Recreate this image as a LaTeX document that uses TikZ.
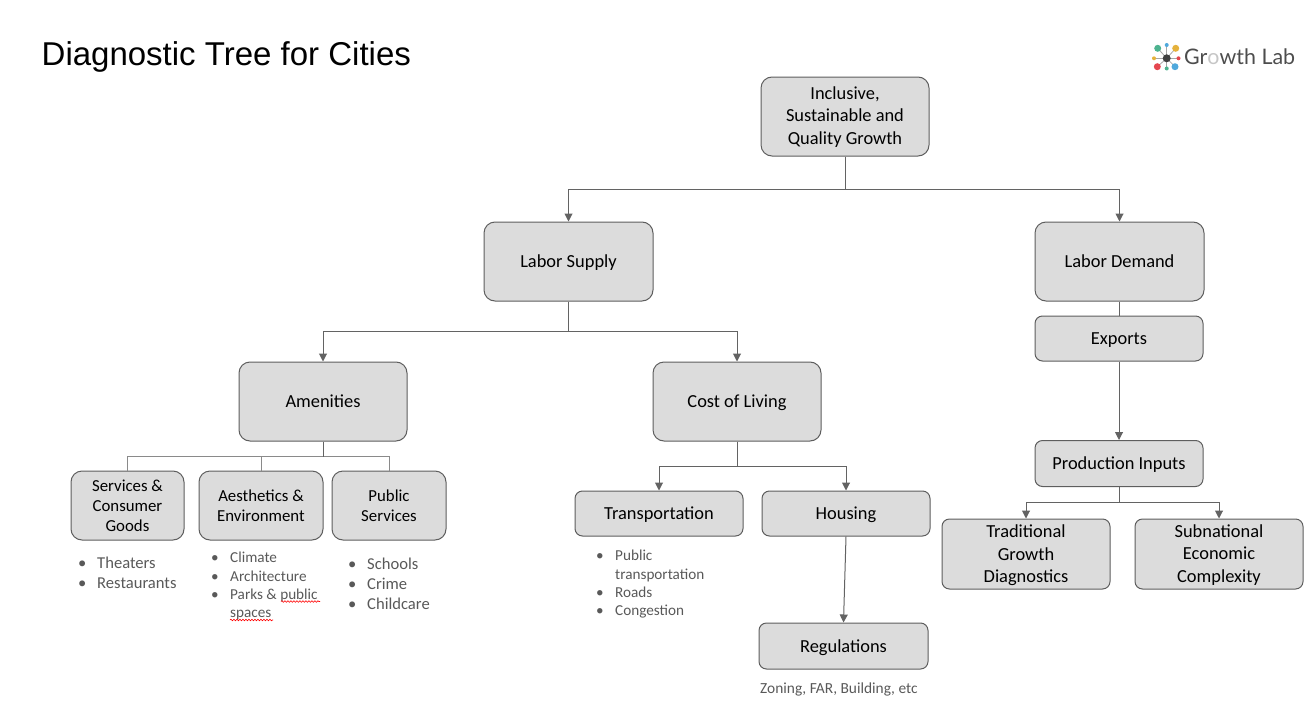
\documentclass[tikz,border=0pt]{standalone}
\usepackage{fontspec}
\setmainfont{Carlito}
\newfontfamily\titlefont{Liberation Sans}
\newfontfamily\logofont{Lato}
\usetikzlibrary{arrows.meta,decorations.pathmorphing}
\definecolor{boxfill}{HTML}{DCDCDC}
\definecolor{boxline}{HTML}{5E5E5E}
\definecolor{linkline}{HTML}{636363}
\definecolor{listtext}{HTML}{595959}
\definecolor{logotext}{HTML}{4D4D4D}
\definecolor{lgreen}{HTML}{4DB38F}
\definecolor{lblue}{HTML}{4FA8DC}
\definecolor{lyellow}{HTML}{E5B23C}
\definecolor{lred}{HTML}{E5474F}
\tikzset{
  x=1pt,y=-1pt,
  tbox/.style={draw=boxline,fill=boxfill,rounded corners=11pt,line width=1pt,align=center,
    inner sep=0pt,text=black,font=\fontsize{18.4}{22.5}\selectfont},
  link/.style={draw=linkline,line width=1pt},
  arrowlink/.style={link,-{Triangle[length=8pt,width=8pt]}},
  paleline/.style={draw=linkline!75,line width=1pt},
  lista/.style={anchor=base west,inner sep=0pt,text=listtext,font=\fontsize{16.6}{16}\selectfont},
  listb/.style={anchor=base west,inner sep=0pt,text=listtext,font=\fontsize{15.2}{14}\selectfont},
  squig/.style={draw=red,line width=0.6pt,decorate,decoration={snake,amplitude=0.8pt,segment length=3pt}},
  logodot/.style={circle,inner sep=0pt,minimum size=#1},
  spoke/.style={draw=gray!70,line width=0.8pt},
}
\newcommand{\bx}[7][]{\node[tbox,#1,minimum width=#6 pt,minimum height=#7 pt] (#2) at (#3,#4) {#5};}
\newcommand{\lowr}{\rule{0pt}{18pt}}
\begin{document}
\begin{tikzpicture}
\useasboundingbox (0,0) rectangle (1306,709);
\node[anchor=base west,inner sep=0pt,font=\titlefont\fontsize{33}{36}\selectfont] (title) at (41.5,66) {Diagnostic Tree for Cities};

% logo
\node[logodot=3pt] (hub) at (1166.7,58.3) {};
\foreach \n/\px/\py/\c/\s in {a/1157.7/48.3/lgreen/7pt,b/1166.7/45/lblue/4pt,c/1175.7/48.3/lyellow/7pt,d/1178.5/58.3/lred/4pt,e/1175/66.7/lblue/7pt,f/1166.7/68.5/lgreen/4pt,g/1157.3/66.7/lred/7pt,h/1154/58.3/lyellow/4pt}{
  \draw[spoke] (hub.center) -- (\px,\py);
  \node[logodot=\s,fill=\c] (dot\n) at (\px,\py) {};
}
\node[logodot=8pt,fill=black!75] (hubdot) at (1166.7,58.3) {};
\node[anchor=base west,inner sep=0pt,text=logotext,font=\logofont\fontsize{21.4}{22}\selectfont] (logo) at (1184,65) {Gr{\color{gray!45}o}wth Lab};

% boxes
\bx{top}{845}{116.5}{\rule{0pt}{13.5pt}Inclusive,\\Sustainable and\\Quality Growth}{168}{79}
\bx{ls}{568.5}{261.5}{\lowr\strut Labor Supply}{169}{79}
\bx{ld}{1119.5}{261.5}{\lowr\strut Labor Demand}{169}{79}
\bx[rounded corners=7.5pt]{exp}{1119}{338.5}{\lowr\strut Exports}{168}{45}
\bx[rounded corners=7.5pt]{pi}{1119}{463.5}{\lowr\strut Production Inputs}{168}{46}
\bx{am}{323}{401.5}{\lowr\strut Amenities}{168}{79}
\bx{col}{737}{401.5}{\lowr\strut Cost of Living}{168}{79}
\bx[font=\fontsize{16.8}{20}\selectfont]{sv}{127.5}{505.5}{Services \&\\Consumer\\Goods}{113}{69}
\bx[font=\fontsize{16.8}{20}\selectfont]{ae}{261}{505.5}{Aesthetics \&\\Environment}{124}{69}
\bx[font=\fontsize{16.8}{20}\selectfont]{pu}{389}{505.5}{Public\\Services}{114}{69}
\bx[rounded corners=7.5pt]{tr}{659}{513.5}{\lowr\strut Transportation}{168}{45}
\bx[rounded corners=7.5pt]{ho}{846}{513.5}{\lowr\strut Housing}{168}{45}
\bx[rounded corners=7.5pt]{re}{843.5}{646}{\rule{0pt}{19pt}\strut Regulations}{169}{46}
\bx[rounded corners=7.5pt]{tg}{1026}{554}{\rule{0pt}{16pt}Traditional\\Growth\\Diagnostics}{168}{70}
\bx[rounded corners=7.5pt]{se}{1219}{554}{\rule{0pt}{14pt}Subnational\\Economic\\Complexity}{168}{70}

% connectors
\draw[arrowlink] (top.south) -- ++(0,32.5) -| (ls.north);
\draw[arrowlink] (top.south) -- ++(0,32.5) -| (ld.north);
\draw[arrowlink] (ls.south) -- ++(0,29.5) -| (am.north);
\draw[arrowlink] (ls.south) -- ++(0,29.5) -| (col.north);
\draw[link] (ld.south) -- (ld.south |- exp.north);
\draw[arrowlink] (exp.south) -- (pi.north);
\draw[paleline] (am.south) -- ++(0,15) -| (sv.north);
\draw[paleline] (am.south) -- ++(0,15) -| (ae.north);
\draw[paleline] (am.south) -- ++(0,15) -| (pu.north);
\draw[link] (am.south) -- ++(0,15);
\draw[arrowlink] (col.south) -- ++(0,24.5) -| (tr.north);
\draw[arrowlink] (col.south) -- ++(0,24.5) -| (ho.north);
\draw[arrowlink] (ho.south) -- (re.north);
\draw[arrowlink] (pi.south) -- ++(0,15) -| (tg.north);
\draw[arrowlink] (pi.south) -- ++(0,15) -| (se.north);

% lists
\foreach \n/\bu/\tx/\yy/\t in {
  a1/78/97/568/Theaters,
  a2/78/97/588/Restaurants,
  c1/348/367/569/Schools,
  c2/348/367/589/Crime,
  c3/348/367/609/Childcare}{
  \node[lista] (bul\n) at (\bu,\yy) {\textbullet};
  \node[lista] (txt\n) at (\tx,\yy) {\t};
}
\foreach \n/\bu/\tx/\yy/\t in {
  b1/211/230/562/Climate,
  b2/211/230/581/Architecture,
  b3/211/230/599/Parks \& public,
  d1/596/615/560/Public,
  d3/596/615/597/Roads,
  d4/596/615/615/Congestion}{
  \node[listb] (bul\n) at (\bu,\yy) {\textbullet};
  \node[listb] (txt\n) at (\tx,\yy) {\t};
}
\node[listb] (txtb4) at (230,617) {spaces};
\node[listb] (txtd2) at (615,579) {transportation};
\node[listb] (zoning) at (760,693) {\fontsize{15.4}{14}\selectfont Zoning, FAR, Building, etc};

% spell-check underlines
\coordinate (s1) at (281,601.5);
\coordinate (s2) at (320,601.5);
\coordinate (s3) at (230,620);
\coordinate (s4) at (273,620);
\draw[squig] (s1) -- (s2);
\draw[squig] (s3) -- (s4);
\end{tikzpicture}
\end{document}
